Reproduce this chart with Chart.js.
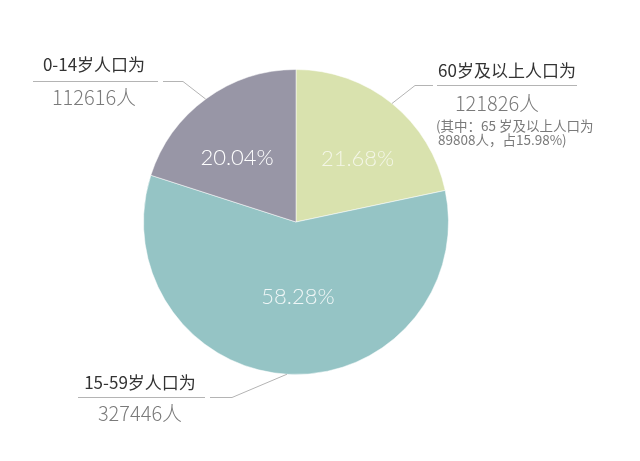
<!DOCTYPE html>
<html>
<head>
<meta charset="utf-8">
<script src="https://cdn.jsdelivr.net/npm/chart.js@4/dist/chart.umd.min.js"></script>
<style>
  html, body { margin: 0; padding: 0; background: #fff; }
  #wrap { width: 640px; height: 461px; }
</style>
</head>
<body>
<div id="wrap"><canvas id="pieChart" width="640" height="461"></canvas></div>
<script>
// dados (ordem horária a partir do topo)
const categorias = ['60岁及以上人口为', '15-59岁人口为', '0-14岁人口为'];
const populacao = [121826, 327446, 112616];
const notaIdosos = ['(其中：65 岁及以上人口为', '89808人，占15.98%)'];

const cores = ['#d9e2ae', '#95c4c5', '#9896a6'];
const coresRotulo = ['rgba(255,255,255,0.7)', 'rgba(255,255,255,0.85)', '#ffffff'];

// posição das anotações externas (estilo, não dados)
const anotacoes = [
    { titulo: [507, 71], valor: [497, 103], linha: [437, 577, 85], quebra: [433, 415] },
    { titulo: [140, 383], valor: [140, 413], linha: [78, 205, 397], quebra: [210, 232] },
    { titulo: [94, 65], valor: [94, 97], linha: [33, 158, 81], quebra: [163, 183] }
];
// ângulo (graus) onde a linha toca o círculo
const angulosLinha = [-51, 93.4, 233.7];
// ajuste fino dos rótulos de percentagem
const rotuloRaio = [0.58, 0.49, 0.57];
const rotuloAngulo = [-45.9, 88.5, 227.3];

const rotulosPlugin = {
    id: 'rotulos',
    afterDatasetsDraw(chart) {
        const ctx = chart.ctx;
        const meta = chart.getDatasetMeta(0);
        const dados = chart.data.datasets[0].data;
        const total = dados.reduce((a, b) => a + b, 0);

        ctx.save();
        // percentagens dentro das fatias
        ctx.font = '300 22px Lato, "Liberation Sans", sans-serif';
        ctx.textAlign = 'center';
        ctx.textBaseline = 'middle';
        meta.data.forEach((arc, i) => {
            const r = arc.outerRadius * rotuloRaio[i];
            const a = rotuloAngulo[i] * Math.PI / 180;
            ctx.fillStyle = coresRotulo[i];
            ctx.fillText((dados[i] / total * 100).toFixed(2) + '%', arc.x + r * Math.cos(a), arc.y + r * Math.sin(a));
        });

        // linhas de chamada
        ctx.strokeStyle = '#b4b4b4';
        ctx.lineWidth = 1;
        meta.data.forEach((arc, i) => {
            const an = anotacoes[i];
            const a = angulosLinha[i] * Math.PI / 180;
            const px = arc.x + arc.outerRadius * Math.cos(a);
            const py = arc.y + arc.outerRadius * Math.sin(a);
            const y = an.linha[2] + 0.5;
            ctx.beginPath();
            ctx.moveTo(an.linha[0], y);
            ctx.lineTo(an.linha[1], y);
            ctx.stroke();
            ctx.beginPath();
            ctx.moveTo(an.quebra[0], y);
            ctx.lineTo(an.quebra[1], y);
            ctx.lineTo(px, py);
            ctx.stroke();
        });

        // títulos e valores
        meta.data.forEach((arc, i) => {
            const an = anotacoes[i];
            ctx.fillStyle = '#333333';
            ctx.font = '400 17px "Noto Sans CJK SC", sans-serif';
            ctx.fillText(chart.data.labels[i], an.titulo[0], an.titulo[1]);
            ctx.fillStyle = '#7a7a7a';
            ctx.font = '300 20px "Noto Sans CJK SC", sans-serif';
            ctx.fillText(dados[i] + '人', an.valor[0], an.valor[1]);
        });

        // nota do grupo 60+
        ctx.fillStyle = '#7a7a7a';
        ctx.font = '13.5px "Noto Sans CJK SC", sans-serif';
        ctx.textAlign = 'left';
        ctx.fillText(notaIdosos[0], 436, 126);
        ctx.fillText(notaIdosos[1], 438, 140);
        ctx.restore();
    }
};

new Chart(document.getElementById('pieChart'), {
    type: 'pie',
    data: {
        labels: categorias,
        datasets: [{
            data: populacao,
            backgroundColor: cores,
            borderColor: 'rgba(255,255,255,0.5)',
            borderWidth: 1
        }]
    },
    options: {
        responsive: false,
        animation: false,
        layout: {
            padding: { left: 143, right: 191, top: 69, bottom: 86 }
        },
        plugins: {
            legend: { display: false },
            tooltip: { enabled: false }
        }
    },
    plugins: [rotulosPlugin]
});
</script>
</body>
</html>
